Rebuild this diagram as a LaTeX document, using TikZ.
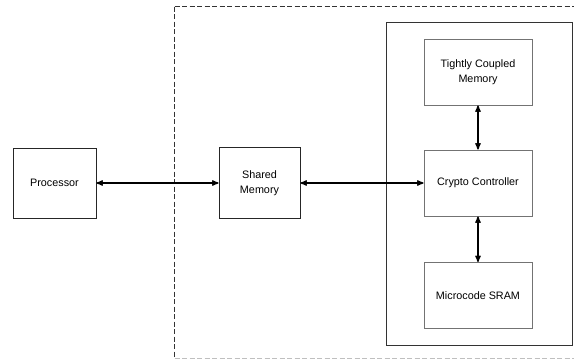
\documentclass[tikz,border=0pt]{standalone}
\usepackage{fontspec}
\setmainfont{Liberation Sans}
\usepackage{tikz}
\usetikzlibrary{arrows,positioning}

\begin{document}
\begin{tikzpicture}[x=1pt,y=-1pt,>=stealth',on grid,line width=0.9pt,
    font=\fontsize{10.8}{15}\selectfont]
\tikzstyle{blk} = [rectangle,draw=black!85,align=center,inner sep=0pt]
\tikzstyle{sub} = [blk,draw=black!55,minimum width=108pt,minimum height=66pt]
    \useasboundingbox (0,0) rectangle (574,360);
    \clip (0,0) rectangle (574,360);
    % outer dashed region and inner block
    \draw[black!80,dash pattern=on 5pt off 2.5pt] (174.5,6.5) -- (580,6.5);
    \draw[black!80,dash pattern=on 5pt off 2.5pt] (174.5,6.5) -- (174.5,358.5);
    \draw[black!25,dash pattern=on 5pt off 2.5pt] (174.5,358.5) -- (580,358.5);
    \draw[black!80] (386,22) rectangle (572,345);

    \node[blk,minimum width=83pt,minimum height=70pt] (proc) at (54.5,183) {Processor};
    \node[blk,minimum width=81pt,minimum height=71pt] (shm) [right=205pt of proc] {Shared\\Memory};
    \node[sub] (cc) [right=218.5pt of shm] {Crypto Controller};
    \node[sub] (tcm) [above=111pt of cc] {Tightly Coupled\\Memory};
    \node[sub] (sram) [below=112.5pt of cc] {Microcode SRAM};

    \tikzset{link/.style={<->,black,line width=1.3pt}}
    \draw (proc) edge [link] (shm);
    \draw (shm) edge [link] (cc);
    \draw (tcm) edge [link] (cc);
    \draw (cc) edge [link] (sram);
\end{tikzpicture}
\end{document}
